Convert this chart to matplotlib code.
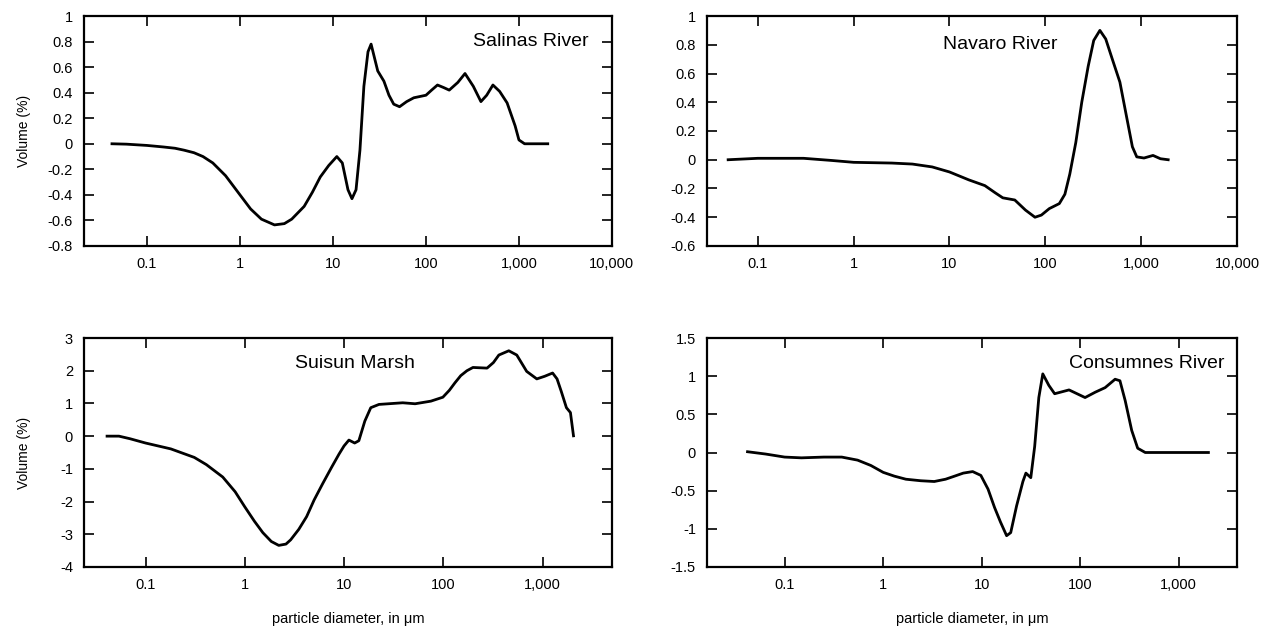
import numpy as np
import matplotlib
matplotlib.use("Agg")
import matplotlib.pyplot as plt

plt.rcParams['font.family'] = ['Liberation Sans', 'DejaVu Sans']

# particle diameter (um) and differential volume (%)
salinas_x = [0.042, 0.06, 0.1, 0.15, 0.2, 0.25, 0.32, 0.4, 0.51, 0.7, 1.0, 1.3, 1.7, 2.35, 3.0,
             3.6, 4.9, 6.0, 7.3, 9.0, 11, 12.6, 14.5, 16, 17.7, 19.5, 21.5, 23.8, 25.7, 30.3,
             35.3, 40, 45, 52, 62, 74, 100, 115, 133, 155, 178, 220, 263, 323, 390, 450, 525,
             620, 746, 910, 1000, 1150, 2040]
salinas_y = [0.0, -0.003, -0.013, -0.025, -0.035, -0.05, -0.07, -0.10, -0.15, -0.25, -0.40,
             -0.51, -0.59, -0.635, -0.625, -0.59, -0.49, -0.38, -0.26, -0.17, -0.10, -0.15,
             -0.36, -0.43, -0.36, -0.05, 0.45, 0.72, 0.78, 0.57, 0.49, 0.38, 0.31, 0.29, 0.33,
             0.36, 0.38, 0.42, 0.46, 0.44, 0.42, 0.48, 0.55, 0.45, 0.33, 0.38, 0.46, 0.41,
             0.32, 0.14, 0.03, 0.0, 0.0]

navaro_x = [0.049, 0.07, 0.1, 0.3, 0.59, 1.0, 2.5, 4.1, 6.6, 10, 15.9, 23.4, 30, 36, 48, 62,
            78, 91, 110, 140, 160, 180, 208, 240, 280, 320, 371, 427, 500, 600, 690, 810, 900,
            1070, 1330, 1590, 1915]
navaro_y = [0.0, 0.005, 0.01, 0.01, -0.005, -0.018, -0.023, -0.03, -0.05, -0.085, -0.14, -0.18,
            -0.23, -0.265, -0.28, -0.35, -0.40, -0.385, -0.34, -0.305, -0.24, -0.10, 0.12,
            0.40, 0.65, 0.83, 0.90, 0.84, 0.70, 0.54, 0.33, 0.09, 0.02, 0.012, 0.03, 0.007, 0.0]

suisun_x = [0.041, 0.054, 0.07, 0.1, 0.18, 0.31, 0.41, 0.6, 0.8, 1.0, 1.25, 1.52, 1.85, 2.2,
            2.6, 2.9, 3.5, 4.2, 5.0, 6.1, 7.5, 8.9, 10, 11.2, 12.8, 14.1, 16.2, 18.6, 22.5, 39,
            52, 75, 99, 115, 131, 150, 173, 199, 276, 320, 363, 457, 550, 692, 875, 1050, 1263,
            1400, 1543, 1740, 1910, 2050]
suisun_y = [0.0, 0.0, -0.08, -0.21, -0.39, -0.65, -0.87, -1.25, -1.7, -2.16, -2.6, -2.95, -3.22,
            -3.34, -3.3, -3.17, -2.85, -2.46, -1.95, -1.45, -0.95, -0.55, -0.3, -0.12, -0.21,
            -0.14, 0.46, 0.87, 0.97, 1.02, 0.99, 1.07, 1.19, 1.4, 1.63, 1.85, 2.0, 2.10, 2.08,
            2.25, 2.48, 2.61, 2.48, 1.98, 1.75, 1.83, 1.93, 1.75, 1.37, 0.87, 0.72, 0.01]

consumnes_x = [0.042, 0.064, 0.1, 0.148, 0.25, 0.38, 0.55, 0.75, 1.0, 1.3, 1.7, 2.4, 3.3, 4.3,
               5.3, 6.5, 8.1, 9.8, 11.6, 13.5, 15.5, 17.9, 19.7, 22.6, 26.2, 28.1, 31.5, 34.5,
               38, 41.7, 48, 55, 77, 112, 142, 179, 226, 253, 286, 333, 383, 457, 2000]
consumnes_y = [0.01, -0.02, -0.06, -0.07, -0.06, -0.06, -0.10, -0.17, -0.26, -0.31, -0.35,
               -0.37, -0.38, -0.35, -0.31, -0.27, -0.25, -0.30, -0.48, -0.72, -0.91, -1.09,
               -1.05, -0.70, -0.38, -0.27, -0.33, 0.08, 0.72, 1.03, 0.88, 0.77, 0.82, 0.72,
               0.79, 0.85, 0.96, 0.94, 0.68, 0.29, 0.056, 0.0, 0.0]

x_ticks_top = [0.1, 1, 10, 100, 1000, 10000]
x_labels_top = ['0.1', '1', '10', '100', '1,000', '10,000']
x_ticks_bot = [0.1, 1, 10, 100, 1000]
x_labels_bot = ['0.1', '1', '10', '100', '1,000']

panels = [
    dict(x=salinas_x, y=salinas_y, name='Salinas River', xlim=(0.021, 10000),
         yt=[1, 0.8, 0.6, 0.4, 0.2, 0, -0.2, -0.4, -0.6, -0.8],
         yl=['1', '0.8', '0.6', '0.4', '0.2', '0', '-0.2', '-0.4', '-0.6', '-0.8'],
         xt=x_ticks_top, xl=x_labels_top, pos=[0.0665, 0.6114, 0.418, 0.3633],
         txt=(0.955, 0.89, 'right'), ylab=True, xlab=False),
    dict(x=navaro_x, y=navaro_y, name='Navaro River', xlim=(0.0295, 10000),
         yt=[1, 0.8, 0.6, 0.4, 0.2, 0, -0.2, -0.4, -0.6],
         yl=['1', '0.8', '0.6', '0.4', '0.2', '0', '-0.2', '-0.4', '-0.6'],
         xt=x_ticks_top, xl=x_labels_top, pos=[0.5598, 0.6114, 0.4196, 0.3633],
         txt=(0.445, 0.878, 'left'), ylab=False, xlab=False),
    dict(x=suisun_x, y=suisun_y, name='Suisun Marsh', xlim=(0.024, 5000),
         yt=[3, 2, 1, 0, -1, -2, -3, -4],
         yl=['3', '2', '1', '0', '-1', '-2', '-3', '-4'],
         xt=x_ticks_bot, xl=x_labels_bot, pos=[0.0665, 0.1043, 0.418, 0.3617],
         txt=(0.40, 0.889, 'left'), ylab=True, xlab=True),
    dict(x=consumnes_x, y=consumnes_y, name='Consumnes River', xlim=(0.0163, 3900),
         yt=[1.5, 1, 0.5, 0, -0.5, -1, -1.5],
         yl=['1.5', '1', '0.5', '0', '-0.5', '-1', '-1.5'],
         xt=x_ticks_bot, xl=x_labels_bot, pos=[0.5598, 0.1043, 0.4196, 0.3617],
         txt=(0.976, 0.887, 'right'), ylab=False, xlab=True),
]

fig = plt.figure(figsize=(12.63, 6.33), dpi=100)

for p in panels:
    ax = fig.add_axes(p['pos'])
    ax.plot(p['x'], p['y'], color='black', lw=2.0, solid_joinstyle='round')
    ax.set_xscale('log')
    ax.set_xlim(*p['xlim'])
    ax.set_ylim(min(p['yt']), max(p['yt']))
    ax.set_xticks(p['xt'])
    ax.set_xticklabels(p['xl'])
    ax.xaxis.set_minor_locator(matplotlib.ticker.NullLocator())
    ax.set_yticks(p['yt'])
    ax.set_yticklabels(p['yl'])
    ax.tick_params(direction='in', length=7, width=1.2, top=True, right=True,
                   labelsize=10.5, pad=8)
    for s in ax.spines.values():
        s.set_linewidth(1.6)
    tx, ty, ha = p['txt']
    ax.text(tx, ty, p['name'], transform=ax.transAxes, ha=ha, va='center', fontsize=14)
    if p['ylab']:
        ax.set_ylabel('Volume (%)', fontsize=10)
        ax.yaxis.set_label_coords(-0.101, 0.5)
    if p['xlab']:
        ax.set_xlabel('particle diameter, in \u03bcm', fontsize=10.5, labelpad=14)

fig.savefig('out.png', dpi=100)
